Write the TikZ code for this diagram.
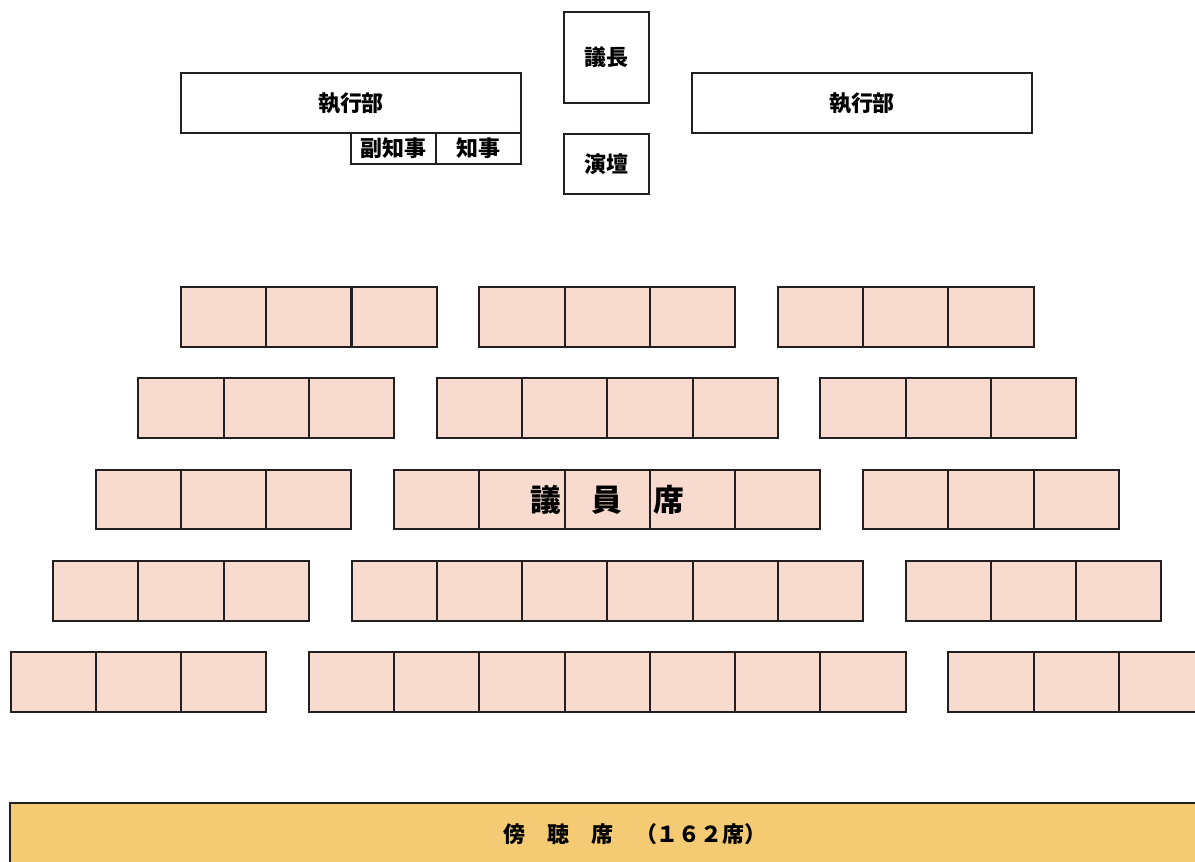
\documentclass[tikz,border=0pt]{standalone}
\usepackage{fontspec}
\setmainfont{Noto Sans CJK JP}
\definecolor{seatfill}{HTML}{F9DACE}
\definecolor{galleryfill}{HTML}{F4CB72}
\definecolor{edge}{HTML}{231F20}
\tikzstyle{box} = [draw=edge, line width=0.04cm, inner sep=0pt, outer sep=0pt, text centered, font=\fontsize{12.5}{15}\selectfont\bfseries]
\tikzstyle{desk} = [box, fill=white, minimum width=1.7cm, minimum height=1.2cm]
\tikzstyle{seat} = [box, fill=seatfill, minimum width=1.705cm, minimum height=1.2cm]
\tikzstyle{gallery} = [box, fill=galleryfill, minimum width=25cm, minimum height=1.24cm]

\begin{document}
\begin{tikzpicture}[x=0.02cm, y=-0.02cm]
        \useasboundingbox (0,0) rectangle (1195,861);
        \clip (0,0) rectangle (1195,861);

        % front: executives, chair and rostrum
        \node[desk, minimum width=6.8cm](execL) at (351,103){執行部};
        \node[desk, minimum width=6.8cm](execR) at (862,103){執行部};
        \node[desk, minimum height=0.62cm, anchor=north east](gov) at (execL.south east){知事};
        \node[desk, minimum height=0.62cm, anchor=north east](vicegov) at (gov.north west){副知事};
        \node[desk, minimum height=1.82cm](chair) at (606.5,57.5){議長};
        \node[desk](rostrum) at (606.5,164){演壇};

        % members' seats, five rows
        \foreach \r in {1,...,5} {
            \pgfmathsetmacro{\ya}{317+(\r-1)*91.25}
            \pgfmathsetmacro{\xa}{181-(\r-1)*42.625}
            \pgfmathsetmacro{\xb}{\xa+3*85.25+42.625}
            \pgfmathtruncatemacro{\nc}{\r+2}
            \pgfmathsetmacro{\xc}{\xb+\nc*85.25+42.625}
            \foreach \i in {1,2,3} {
                \node[seat](l-\r-\i) at ({\xa+(\i-0.5)*85.25},\ya){};
                \node[seat](r-\r-\i) at ({\xc+(\i-0.5)*85.25},\ya){};
            }
            \foreach \i in {1,...,\nc} {
                \node[seat](c-\r-\i) at ({\xb+(\i-0.5)*85.25},\ya){};
            }
        }
        \node[font=\fontsize{17.5}{20}\selectfont\bfseries](members) at (c-3-3){議　員　席};

        % public gallery
        \node[gallery](gallery) at (635,834){傍　聴　席　（１６２席）};
    \end{tikzpicture}
\end{document}
